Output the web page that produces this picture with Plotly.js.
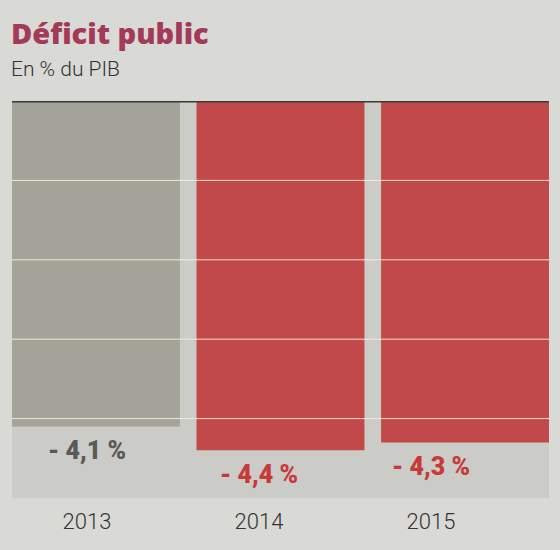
<!DOCTYPE html>
<html>
<head>
<meta charset="utf-8">
<script src="https://cdn.plot.ly/plotly-3.0.1.min.js"></script>
<style>html,body{margin:0;padding:0;background:#d9d9d5;}</style>
</head>
<body>
<div id="chart" style="width:560px;height:550px;"></div>
<script>
// ---- data ----
const years = ['2013', '2014', '2015'];
const deficit = [-4.1, -4.4, -4.3];
const valueLabels = ['- 4,1 %', '- 4,4 %', '- 4,3 %'];
const gridValues = [-1, -2, -3, -4];

// ---- styles ----
const barColors = ['#a3a399', '#c24949', '#c24949'];
const labelColors = ['#595956', '#c8393a', '#c8393a'];

const traces = [
  {
    type: 'bar',
    x: years,
    y: deficit,
    xaxis: 'x',
    yaxis: 'y',
    marker: {color: barColors, line: {width: 0}},
    hoverinfo: 'skip'
  },
  {
    type: 'scatter',
    mode: 'markers',
    x: years,
    y: deficit,
    xaxis: 'x2',
    yaxis: 'y',
    marker: {opacity: 0},
    hoverinfo: 'skip',
    showlegend: false
  }
];

const shapes = gridValues.map(v => ({
  type: 'line', xref: 'paper', x0: 0, x1: 1, yref: 'y', y0: v, y1: v,
  line: {color: 'rgba(250,238,222,0.9)', width: 1}, layer: 'above'
}));
shapes.push({
  type: 'line', xref: 'paper', x0: 0, x1: 1, yref: 'y', y0: 0, y1: 0,
  line: {color: '#3a3a3a', width: 3}, layer: 'above'
});

const annotations = years.map((yr, i) => ({
  xref: 'x2', yref: 'y', x: i, y: deficit[i],
  text: valueLabels[i], showarrow: false,
  yanchor: 'middle', xanchor: 'center', yshift: -24,
  font: {family: 'Roboto, sans-serif', size: 25, weight: 900, color: labelColors[i]}
}));
annotations.push({
  xref: 'paper', yref: 'paper', x: 0, y: 1, xanchor: 'left', yanchor: 'middle',
  yshift: 32, xshift: -3, showarrow: false, text: 'En % du PIB',
  font: {family: 'Roboto, sans-serif', size: 21, weight: 300, color: '#333333'}
});

const layout = {
  width: 560, height: 550,
  margin: {l: 12, r: 11, t: 101, b: 52, pad: 0},
  paper_bgcolor: '#d9d9d5',
  plot_bgcolor: '#cbccc7',
  showlegend: false,
  bargap: 0.09,
  title: {
    text: 'Déficit public',
    xref: 'container', x: 11 / 560, xanchor: 'left',
    yref: 'container', y: 1 - 34 / 550, yanchor: 'middle',
    font: {family: 'Open Sans, sans-serif', size: 29, weight: 800, color: '#a33a58'}
  },
  xaxis: {
    type: 'category', range: [-0.455, 2.455], fixedrange: true,
    showticklabels: false, showgrid: false, zeroline: false, showline: false
  },
  xaxis2: {
    type: 'category', overlaying: 'x', anchor: 'y', side: 'bottom',
    range: [-0.436, 2.686], fixedrange: true,
    showgrid: false, zeroline: false, showline: false,
    ticks: 'outside', ticklen: 4, tickcolor: 'rgba(0,0,0,0)',
    tickfont: {family: 'Roboto, sans-serif', size: 22, weight: 300, color: '#333333'}
  },
  yaxis: {
    range: [-5, 0], fixedrange: true,
    showticklabels: false, showgrid: false, zeroline: false, showline: false
  },
  shapes: shapes,
  annotations: annotations
};

Plotly.newPlot('chart', traces, layout, {displayModeBar: false, staticPlot: true});
</script>
</body>
</html>
